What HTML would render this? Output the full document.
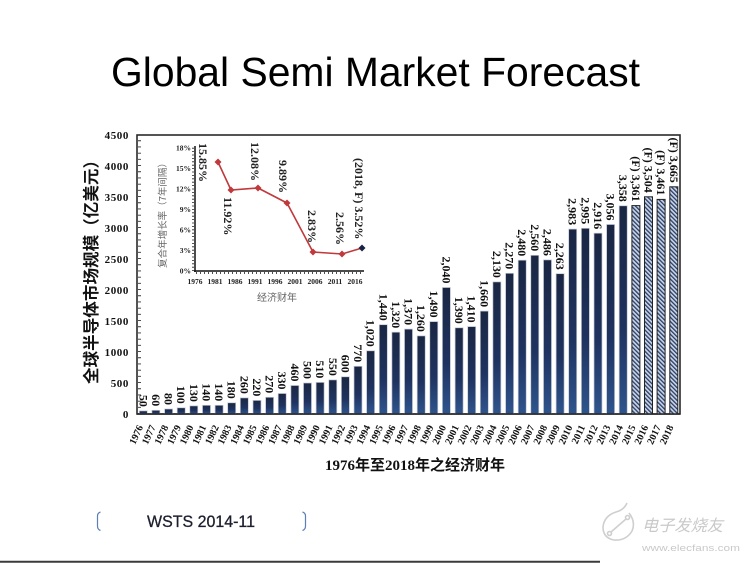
<!DOCTYPE html>
<html><head><meta charset="utf-8"><style>
html,body{margin:0;padding:0;background:#fff;}
svg{display:block;}
.bl{font-family:"Liberation Serif","Noto Serif CJK SC",serif;font-weight:bold;font-size:12px;fill:#111;}
.xl{font-family:"Liberation Serif",serif;font-weight:bold;font-size:10px;fill:#111;}
.yl{font-family:"Liberation Serif",serif;font-weight:bold;font-size:11px;fill:#111;letter-spacing:0.6px;}
.il{font-family:"Liberation Serif",serif;font-weight:bold;font-size:7.5px;fill:#222;}
.an{font-family:"Liberation Serif",serif;font-weight:bold;font-size:12px;fill:#222;}
</style></head><body>
<svg width="750" height="563" viewBox="0 0 750 563" xmlns="http://www.w3.org/2000/svg">
<defs>
<linearGradient id="g" x1="0" y1="0" x2="0" y2="1">
<stop offset="0" stop-color="#1a2643"/><stop offset="0.6" stop-color="#1f3360"/><stop offset="1" stop-color="#2f548d"/>
</linearGradient>
<pattern id="h" width="3" height="3" patternUnits="userSpaceOnUse" patternTransform="rotate(-45)">
<rect width="3" height="3" fill="#c9d4e6"/><rect width="1.3" height="3" fill="#2a3d66"/>
</pattern>
</defs>
<rect width="750" height="563" fill="#fff"/>
<!-- Title -->
<text x="111" y="86" font-family="Liberation Sans, sans-serif" font-size="41" fill="#000" textLength="529" lengthAdjust="spacingAndGlyphs">Global Semi Market Forecast</text>

<!-- plot frame -->
<rect x="137" y="135" width="543" height="279" fill="#fff" stroke="#2a2a2a" stroke-width="1.6"/>
<line x1="139.5" y1="414" x2="139.5" y2="135" stroke="#333" stroke-width="3" stroke-dasharray="0.9 5.3"/>

<!-- y labels -->
<g class="yl" text-anchor="end">
<text x="129" y="418">0</text>
<text x="129" y="387">500</text>
<text x="129" y="356">1000</text>
<text x="129" y="325">1500</text>
<text x="129" y="294">2000</text>
<text x="129" y="263">2500</text>
<text x="129" y="232">3000</text>
<text x="129" y="201">3500</text>
<text x="129" y="170">4000</text>
<text x="129" y="139">4500</text>
</g>
<text transform="translate(97,268) rotate(-90)" text-anchor="middle" font-family="Liberation Sans, 'Noto Sans CJK SC', sans-serif" font-weight="bold" font-size="16.5" fill="#111" textLength="232" lengthAdjust="spacingAndGlyphs">全球半导体市场规模（亿美元）</text>

<!-- bars -->
<g fill="url(#g)" stroke="#c3c8d2" stroke-width="0.7">
<rect x="139.3" y="410.9" width="8" height="3.1"/>
<rect x="151.9" y="410.3" width="8" height="3.7"/>
<rect x="164.6" y="409.0" width="8" height="5.0"/>
<rect x="177.2" y="407.8" width="8" height="6.2"/>
<rect x="189.8" y="405.9" width="8" height="8.1"/>
<rect x="202.5" y="405.3" width="8" height="8.7"/>
<rect x="215.1" y="405.3" width="8" height="8.7"/>
<rect x="227.7" y="402.8" width="8" height="11.2"/>
<rect x="240.3" y="397.9" width="8" height="16.1"/>
<rect x="253.0" y="400.4" width="8" height="13.6"/>
<rect x="265.6" y="397.3" width="8" height="16.7"/>
<rect x="278.2" y="393.5" width="8" height="20.5"/>
<rect x="290.9" y="385.5" width="8" height="28.5"/>
<rect x="303.5" y="383.0" width="8" height="31.0"/>
<rect x="316.1" y="382.4" width="8" height="31.6"/>
<rect x="328.8" y="379.9" width="8" height="34.1"/>
<rect x="341.4" y="376.8" width="8" height="37.2"/>
<rect x="354.0" y="366.3" width="8" height="47.7"/>
<rect x="366.6" y="350.8" width="8" height="63.2"/>
<rect x="379.3" y="324.7" width="8" height="89.3"/>
<rect x="391.9" y="332.2" width="8" height="81.8"/>
<rect x="404.5" y="329.1" width="8" height="84.9"/>
<rect x="417.2" y="335.9" width="8" height="78.1"/>
<rect x="429.8" y="321.6" width="8" height="92.4"/>
<rect x="442.4" y="287.5" width="8" height="126.5"/>
<rect x="455.1" y="327.8" width="8" height="86.2"/>
<rect x="467.7" y="326.6" width="8" height="87.4"/>
<rect x="480.3" y="311.1" width="8" height="102.9"/>
<rect x="492.9" y="281.9" width="8" height="132.1"/>
<rect x="505.6" y="273.3" width="8" height="140.7"/>
<rect x="518.2" y="260.2" width="8" height="153.8"/>
<rect x="530.8" y="255.3" width="8" height="158.7"/>
<rect x="543.5" y="259.9" width="8" height="154.1"/>
<rect x="556.1" y="273.7" width="8" height="140.3"/>
<rect x="568.7" y="229.1" width="8" height="184.9"/>
<rect x="581.4" y="228.3" width="8" height="185.7"/>
<rect x="594.0" y="233.2" width="8" height="180.8"/>
<rect x="606.6" y="224.5" width="8" height="189.5"/>
<rect x="619.2" y="205.8" width="8" height="208.2"/>
</g>
<g fill="url(#h)" stroke="#222" stroke-width="1">
<rect x="631.9" y="205.6" width="8" height="208.4"/>
<rect x="644.5" y="196.8" width="8" height="217.2"/>
<rect x="657.1" y="199.4" width="8" height="214.6"/>
<rect x="669.8" y="186.8" width="8" height="227.2"/>
</g>
<line x1="137" y1="414" x2="680" y2="414" stroke="#2a2a2a" stroke-width="1.6"/>

<!-- bar labels -->
<g class="bl" text-anchor="end">
<text transform="translate(139.3,406.9) rotate(90)">50</text>
<text transform="translate(151.9,406.3) rotate(90)">60</text>
<text transform="translate(164.6,405.0) rotate(90)">80</text>
<text transform="translate(177.2,403.8) rotate(90)">100</text>
<text transform="translate(189.8,401.9) rotate(90)">130</text>
<text transform="translate(202.5,401.3) rotate(90)">140</text>
<text transform="translate(215.1,401.3) rotate(90)">140</text>
<text transform="translate(227.7,398.8) rotate(90)">180</text>
<text transform="translate(240.3,393.9) rotate(90)">260</text>
<text transform="translate(253.0,396.4) rotate(90)">220</text>
<text transform="translate(265.6,393.3) rotate(90)">270</text>
<text transform="translate(278.2,389.5) rotate(90)">330</text>
<text transform="translate(290.9,381.5) rotate(90)">460</text>
<text transform="translate(303.5,379.0) rotate(90)">500</text>
<text transform="translate(316.1,378.4) rotate(90)">510</text>
<text transform="translate(328.8,375.9) rotate(90)">550</text>
<text transform="translate(341.4,372.8) rotate(90)">600</text>
<text transform="translate(354.0,362.3) rotate(90)">770</text>
<text transform="translate(366.6,346.8) rotate(90)">1,020</text>
<text transform="translate(379.3,320.7) rotate(90)">1,440</text>
<text transform="translate(391.9,328.2) rotate(90)">1,320</text>
<text transform="translate(404.5,325.1) rotate(90)">1,370</text>
<text transform="translate(417.2,331.9) rotate(90)">1,260</text>
<text transform="translate(429.8,317.6) rotate(90)">1,490</text>
<text transform="translate(442.4,283.5) rotate(90)">2,040</text>
<text transform="translate(455.1,323.8) rotate(90)">1,390</text>
<text transform="translate(467.7,322.6) rotate(90)">1,410</text>
<text transform="translate(480.3,307.1) rotate(90)">1,660</text>
<text transform="translate(492.9,277.9) rotate(90)">2,130</text>
<text transform="translate(505.6,269.3) rotate(90)">2,270</text>
<text transform="translate(518.2,256.2) rotate(90)">2,480</text>
<text transform="translate(530.8,251.3) rotate(90)">2,560</text>
<text transform="translate(543.5,255.9) rotate(90)">2,486</text>
<text transform="translate(556.1,269.7) rotate(90)">2,263</text>
<text transform="translate(568.7,225.1) rotate(90)">2,983</text>
<text transform="translate(581.4,224.3) rotate(90)">2,995</text>
<text transform="translate(594.0,229.2) rotate(90)">2,916</text>
<text transform="translate(606.6,220.5) rotate(90)">3,056</text>
<text transform="translate(619.2,201.8) rotate(90)">3,358</text>
<text transform="translate(631.9,201.6) rotate(90)">(F) 3,361</text>
<text transform="translate(644.5,192.8) rotate(90)">(F) 3,504</text>
<text transform="translate(657.1,195.4) rotate(90)">(F) 3,461</text>
<text transform="translate(669.8,182.8) rotate(90)">(F) 3,665</text>
</g>

<!-- x labels -->
<g class="xl" text-anchor="end">
<text transform="translate(143.3,427) rotate(-65)">1976</text>
<text transform="translate(155.9,427) rotate(-65)">1977</text>
<text transform="translate(168.6,427) rotate(-65)">1978</text>
<text transform="translate(181.2,427) rotate(-65)">1979</text>
<text transform="translate(193.8,427) rotate(-65)">1980</text>
<text transform="translate(206.5,427) rotate(-65)">1981</text>
<text transform="translate(219.1,427) rotate(-65)">1982</text>
<text transform="translate(231.7,427) rotate(-65)">1983</text>
<text transform="translate(244.3,427) rotate(-65)">1984</text>
<text transform="translate(257.0,427) rotate(-65)">1985</text>
<text transform="translate(269.6,427) rotate(-65)">1986</text>
<text transform="translate(282.2,427) rotate(-65)">1987</text>
<text transform="translate(294.9,427) rotate(-65)">1988</text>
<text transform="translate(307.5,427) rotate(-65)">1989</text>
<text transform="translate(320.1,427) rotate(-65)">1990</text>
<text transform="translate(332.8,427) rotate(-65)">1991</text>
<text transform="translate(345.4,427) rotate(-65)">1992</text>
<text transform="translate(358.0,427) rotate(-65)">1993</text>
<text transform="translate(370.6,427) rotate(-65)">1994</text>
<text transform="translate(383.3,427) rotate(-65)">1995</text>
<text transform="translate(395.9,427) rotate(-65)">1996</text>
<text transform="translate(408.5,427) rotate(-65)">1997</text>
<text transform="translate(421.2,427) rotate(-65)">1998</text>
<text transform="translate(433.8,427) rotate(-65)">1999</text>
<text transform="translate(446.4,427) rotate(-65)">2000</text>
<text transform="translate(459.1,427) rotate(-65)">2001</text>
<text transform="translate(471.7,427) rotate(-65)">2002</text>
<text transform="translate(484.3,427) rotate(-65)">2003</text>
<text transform="translate(496.9,427) rotate(-65)">2004</text>
<text transform="translate(509.6,427) rotate(-65)">2005</text>
<text transform="translate(522.2,427) rotate(-65)">2006</text>
<text transform="translate(534.8,427) rotate(-65)">2007</text>
<text transform="translate(547.5,427) rotate(-65)">2008</text>
<text transform="translate(560.1,427) rotate(-65)">2009</text>
<text transform="translate(572.7,427) rotate(-65)">2010</text>
<text transform="translate(585.4,427) rotate(-65)">2011</text>
<text transform="translate(598.0,427) rotate(-65)">2012</text>
<text transform="translate(610.6,427) rotate(-65)">2013</text>
<text transform="translate(623.2,427) rotate(-65)">2014</text>
<text transform="translate(635.9,427) rotate(-65)">2015</text>
<text transform="translate(648.5,427) rotate(-65)">2016</text>
<text transform="translate(661.1,427) rotate(-65)">2017</text>
<text transform="translate(673.8,427) rotate(-65)">2018</text>
</g>
<text x="325" y="470" font-family="Liberation Serif, 'Noto Sans CJK SC', serif" font-weight="bold" font-size="15" fill="#111">1976年至2018年之经济财年</text>

<!-- inset -->
<line x1="195" y1="146" x2="195" y2="272" stroke="#111" stroke-width="1.5"/>
<line x1="194" y1="271" x2="364" y2="271" stroke="#111" stroke-width="1.5"/>
<line x1="193" y1="271" x2="193" y2="147" stroke="#222" stroke-width="2" stroke-dasharray="0.8 2.6"/>
<line x1="196" y1="273" x2="364" y2="273" stroke="#222" stroke-width="2" stroke-dasharray="0.8 3.2"/>
<g class="il" text-anchor="end">
<text x="191" y="150.5">18%</text>
<text x="191" y="171">15%</text>
<text x="191" y="191.5">12%</text>
<text x="191" y="212">9%</text>
<text x="191" y="232.5">6%</text>
<text x="191" y="253">3%</text>
<text x="191" y="273.5">0%</text>
</g>
<g class="il" text-anchor="middle">
<text x="195" y="284">1976</text>
<text x="215" y="284">1981</text>
<text x="235" y="284">1986</text>
<text x="255" y="284">1991</text>
<text x="275" y="284">1996</text>
<text x="295" y="284">2001</text>
<text x="315" y="284">2006</text>
<text x="335" y="284">2011</text>
<text x="355" y="284">2016</text>
</g>
<text x="277" y="301" text-anchor="middle" font-family="'Noto Sans CJK SC', sans-serif" font-size="10" fill="#666">经济财年</text>
<text transform="translate(166,213) rotate(-90)" text-anchor="middle" font-family="'Noto Sans CJK SC', sans-serif" font-size="9.5" fill="#666">复合年增长率（7年间隔）</text>
<polyline points="218,162 231,190 258,188 287,203 313,252 342,254 362,248" fill="none" stroke="#c0393b" stroke-width="1.6"/>
<g fill="#c0393b">
<path d="M218,158.5 L221.5,162 L218,165.5 L214.5,162Z"/>
<path d="M231,186.5 L234.5,190 L231,193.5 L227.5,190Z"/>
<path d="M258,184.5 L261.5,188 L258,191.5 L254.5,188Z"/>
<path d="M287,199.5 L290.5,203 L287,206.5 L283.5,203Z"/>
<path d="M313,248.5 L316.5,252 L313,255.5 L309.5,252Z"/>
<path d="M342,250.5 L345.5,254 L342,257.5 L338.5,254Z"/>
</g>
<path d="M362,244.5 L365.5,248 L362,251.5 L358.5,248Z" fill="#1a2240"/>
<g class="an">
<text transform="translate(199,143) rotate(90)">15.85%</text>
<text transform="translate(224,197) rotate(90)">11.92%</text>
<text transform="translate(251,142) rotate(90)">12.08%</text>
<text transform="translate(279,160) rotate(90)">9.89%</text>
<text transform="translate(308,210) rotate(90)">2.83%</text>
<text transform="translate(336,212) rotate(90)">2.56%</text>
<text transform="translate(355,158) rotate(90)">(2018, F) 3.52%</text>
</g>

<!-- source -->
<path d="M100.5,512 Q97.5,513 97.5,516 L97.5,526 Q97.5,529.5 100.5,530.5" fill="none" stroke="#5b7fb8" stroke-width="1.2"/>
<path d="M302.5,512 Q305.5,513 305.5,516 L305.5,526 Q305.5,529.5 302.5,530.5" fill="none" stroke="#5b7fb8" stroke-width="1.2"/>
<text x="147" y="527" font-family="Liberation Sans, sans-serif" font-size="17" fill="#1c1f2e" stroke="#1c1f2e" stroke-width="0.3" textLength="108" lengthAdjust="spacingAndGlyphs">WSTS 2014-11</text>
<line x1="0" y1="561.8" x2="600" y2="561.8" stroke="#3a3a3a" stroke-width="2"/>

<!-- watermark -->
<g fill="none" stroke="#cfcfcf" stroke-width="1.6">
<path d="M629,513 Q636,522 632,531 Q626,541 614,540 Q603,538 603,527 Q604,516 616,512 Q624,510 627,503"/>
<line x1="611" y1="532" x2="626" y2="519"/>
<circle cx="609.5" cy="533.5" r="2"/>
<circle cx="627.5" cy="517.5" r="2"/>
</g>
<text x="642" y="531" font-family="'Noto Sans CJK SC', sans-serif" font-size="16" fill="#c9c9c9" font-style="italic" textLength="81" lengthAdjust="spacingAndGlyphs">电子发烧友</text>
<text x="642" y="551" font-family="Liberation Sans, sans-serif" font-size="9.5" fill="#c9c9c9" textLength="98" lengthAdjust="spacingAndGlyphs">www.elecfans.com</text>
</svg>
</body></html>
